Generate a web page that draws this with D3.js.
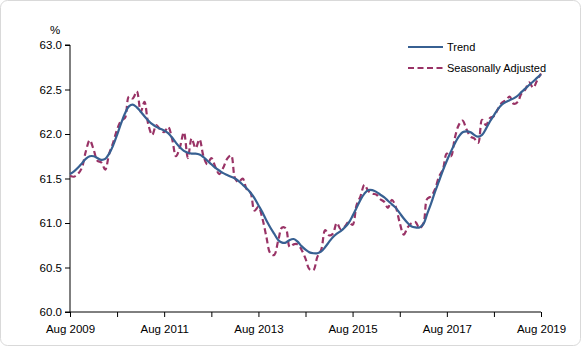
<!DOCTYPE html>
<html><head><meta charset="utf-8">
<script src="https://cdn.jsdelivr.net/npm/d3@7"></script>
<style>html,body{margin:0;padding:0;background:#fff;}svg{display:block;}</style>
</head><body>
<script>
// ---- data ----
const startMonth = "2009-08";
const endMonth = "2019-08";
const trend = [61.55,61.58,61.62,61.67,61.72,61.75,61.75,61.73,61.71,61.72,
61.78,61.87,61.99,62.12,62.23,62.31,62.33,62.30,62.25,62.20,
62.15,62.11,62.08,62.06,62.04,62.01,61.96,61.90,61.85,61.81,
61.79,61.78,61.78,61.77,61.74,61.70,61.66,61.62,61.59,61.56,
61.54,61.52,61.50,61.47,61.43,61.39,61.34,61.28,61.20,61.12,
61.03,60.95,60.88,60.81,60.78,60.78,60.81,60.82,60.79,60.74,
60.70,60.67,60.66,60.66,60.68,60.73,60.79,60.84,60.88,60.91,
60.95,61.00,61.08,61.17,61.26,61.33,61.37,61.37,61.35,61.32,
61.29,61.25,61.21,61.17,61.11,61.05,61.00,60.96,60.95,60.95,
60.99,61.10,61.22,61.35,61.47,61.59,61.70,61.80,61.89,61.97,
62.02,62.03,62.02,61.99,61.97,61.99,62.06,62.14,62.21,62.28,
62.33,62.36,62.38,62.40,62.43,62.47,62.51,62.55,62.59,62.63,62.67];
const seasonallyAdjusted = [61.53,61.52,61.55,61.62,61.80,61.93,61.82,61.70,61.68,61.60,
61.78,61.90,62.05,62.15,62.18,62.42,62.40,62.48,62.25,62.36,
62.10,61.99,62.10,62.05,62.02,62.08,61.95,61.75,61.85,62.02,
61.73,61.95,61.84,61.94,61.75,61.66,61.73,61.63,61.55,61.62,
61.72,61.76,61.50,61.46,61.50,61.38,61.34,61.14,61.18,61.05,
60.85,60.66,60.64,60.80,60.95,60.94,60.73,60.76,60.76,60.70,
60.60,60.48,60.47,60.62,60.70,60.92,60.86,60.88,61.00,60.93,
60.96,61.01,60.98,61.20,61.30,61.43,61.36,61.33,61.32,61.27,
61.24,61.17,61.26,61.18,61.00,60.87,60.95,61.00,61.01,60.94,
61.00,61.27,61.30,61.38,61.52,61.60,61.78,61.75,61.95,62.10,
62.15,62.05,61.97,61.95,61.90,62.16,62.10,62.18,62.20,62.28,
62.35,62.38,62.42,62.34,62.36,62.45,62.50,62.58,62.52,62.60,62.68];
const yTicks = [60.0,60.5,61.0,61.5,62.0,62.5,63.0];
const xTickLabels = ["Aug 2009","Aug 2011","Aug 2013","Aug 2015","Aug 2017","Aug 2019"];
const seriesNames = ["Trend","Seasonally Adjusted"];
const yUnit = "%";

// ---- layout ----
const W = 581, H = 346;
const m = {left:70, right:40, top:45, bottom:34};
const x0 = 70, x1 = 541, y0 = 45, y1 = 312;
const font = "'Liberation Sans', Arial, sans-serif";

const parse = d3.timeParse("%Y-%m");
const months = d3.timeMonth.range(parse(startMonth), d3.timeMonth.offset(parse(endMonth), 1));
const xTicks = d3.timeMonth.range(parse(startMonth), d3.timeMonth.offset(parse(endMonth), 1), 12);

const svg = d3.select("body").append("svg").attr("width", W).attr("height", H);
svg.append("rect").attr("x",0.5).attr("y",0.5).attr("width",W-1).attr("height",H-1)
  .attr("rx",7).attr("fill","#fff").attr("stroke","#d9d9d9");

const x = d3.scaleTime().domain([months[0], months[months.length-1]]).range([x0, x1]);
const y = d3.scaleLinear().domain([60, 63]).range([y1, y0]);

// y axis
const yAxis = d3.axisLeft(y).tickValues(yTicks).tickFormat(d3.format(".1f")).tickSize(5).tickPadding(3);
const gy = svg.append("g").attr("transform", `translate(${x0},0)`).call(yAxis);
gy.select(".domain").attr("stroke","#000").attr("d", `M-5,${y0}H0V${y1}H-5`);
gy.selectAll(".tick line").attr("stroke","#000");
gy.selectAll("text").attr("font-family",font).attr("font-size","11.5px").attr("fill","#000");

// x axis
const xAxis = d3.axisBottom(x).tickValues(xTicks)
  .tickFormat((d,i) => i % 2 === 0 ? xTickLabels[i/2] : "").tickSize(5).tickPadding(8);
const gx = svg.append("g").attr("transform", `translate(0,${y1})`).call(xAxis);
gx.select(".domain").attr("stroke","#000").attr("d", `M${x0},0H${x1}`);
gx.selectAll(".tick line").attr("stroke","#000");
gx.selectAll("text").attr("font-family",font).attr("font-size","11.5px").attr("fill","#000");

svg.append("text").attr("x",55).attr("y",34).attr("text-anchor","middle")
  .attr("font-family",font).attr("font-size","11.5px").text(yUnit);

// lines
const line = d3.line().x((d,i) => x(months[i])).y(d => y(d)).curve(d3.curveCatmullRom.alpha(0.5));
svg.append("path").datum(seasonallyAdjusted).attr("d", line)
  .attr("fill","none").attr("stroke","#993366").attr("stroke-width",2.2).attr("stroke-dasharray","6,3.5");
svg.append("path").datum(trend).attr("d", line)
  .attr("fill","none").attr("stroke","#376092").attr("stroke-width",2.2);

// legend
const lg = svg.append("g");
const legendItems = [
  {name: seriesNames[0], color:"#376092", dash:null, y:47},
  {name: seriesNames[1], color:"#993366", dash:"6,3.5", y:68}
];
legendItems.forEach(it => {
  lg.append("line").attr("x1",408).attr("x2",443).attr("y1",it.y).attr("y2",it.y)
    .attr("stroke",it.color).attr("stroke-width",2.2).attr("stroke-dasharray",it.dash);
  lg.append("text").attr("x",447).attr("y",it.y+4).attr("font-family",font)
    .attr("font-size","11px").attr("fill","#000").text(it.name);
});
</script>
</body></html>
